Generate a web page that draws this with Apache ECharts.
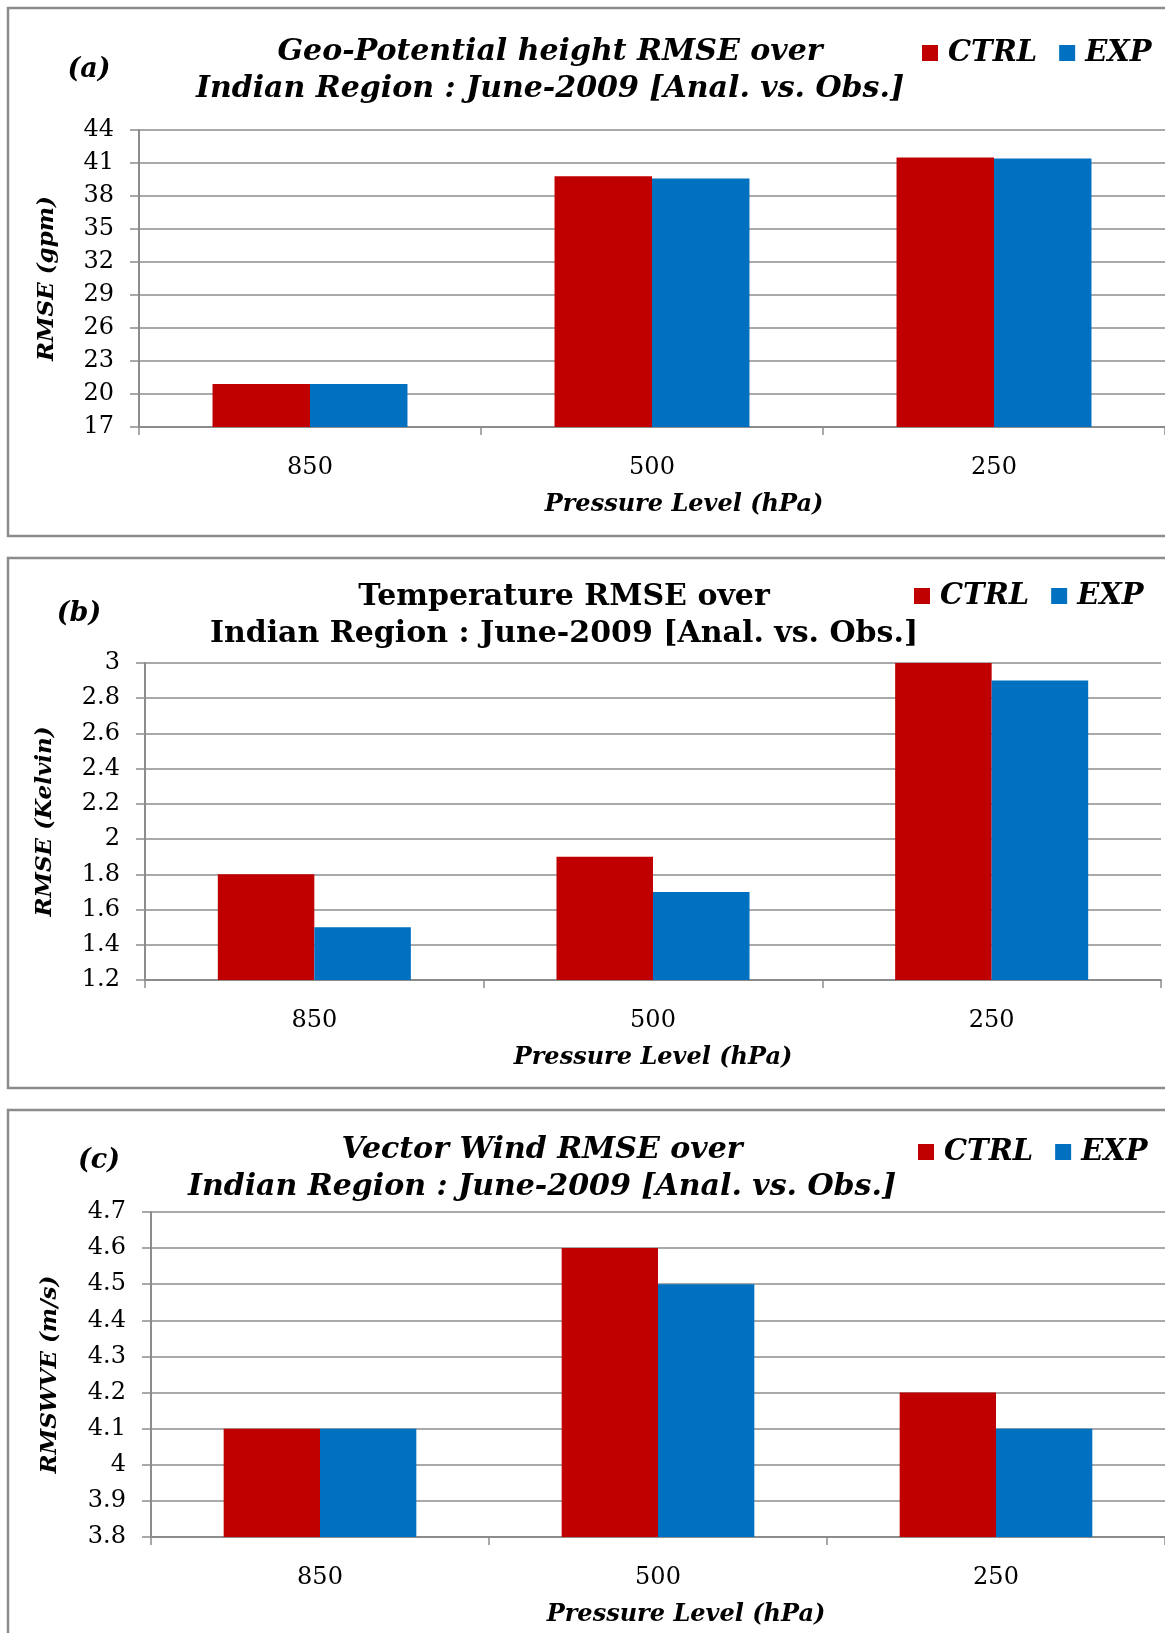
<!DOCTYPE html>
<html>
<head>
<meta charset="utf-8">
<script src="https://cdn.jsdelivr.net/npm/echarts@6/dist/echarts.min.js"></script>
<style>
html,body{margin:0;padding:0;background:#fff;}
#chart{width:1165px;height:1633px;}
</style>
</head>
<body>
<div id="chart"></div>
<script>
const levels = ['850', '500', '250'];
const seriesNames = ['CTRL', 'EXP'];
const geoCtrl = [20.9, 39.8, 41.5];
const geoExp = [20.9, 39.6, 41.4];
const tempCtrl = [1.8, 1.9, 3.0];
const tempExp = [1.5, 1.7, 2.9];
const windCtrl = [4.1, 4.6, 4.2];
const windExp = [4.1, 4.5, 4.1];
const titlesA = ['Geo-Potential height RMSE over', 'Indian Region : June-2009 [Anal. vs. Obs.]'];
const titlesB = ['Temperature RMSE over', 'Indian Region : June-2009 [Anal. vs. Obs.]'];
const titlesC = ['Vector Wind RMSE over', 'Indian Region : June-2009 [Anal. vs. Obs.]'];
const panelTags = ['(a)', '(b)', '(c)'];
const yNames = ['RMSE (gpm)', 'RMSE (Kelvin)', 'RMSWVE (m/s)'];
const xName = 'Pressure Level (hPa)';

const RED = '#C00000', BLUE = '#0070C0', GRAY = '#8c8c8c';
const SERIF = '"DejaVu Serif", serif';

const chart = echarts.init(document.getElementById('chart'));

const grids = [
  {left: 139, top: 130, width: 1030, height: 297},
  {left: 145, top: 663, width: 1016, height: 317},
  {left: 151, top: 1212, width: 1018, height: 325}
];
const yCfg = [
  {min: 17, max: 44, interval: 3, gap: 80},
  {min: 1.2, max: 3, interval: 0.2, gap: 88},
  {min: 3.8, max: 4.7, interval: 0.1, gap: 89}
];
const xPad = [64, 0, 56];

function xAxis(i) {
  return {
    type: 'category', gridIndex: i, data: levels,
    axisLine: {lineStyle: {color: GRAY, width: 2}},
    axisTick: {show: true, length: 8, lineStyle: {color: GRAY, width: 1.5}},
    axisLabel: {margin: 29, fontFamily: SERIF, fontSize: 24, color: '#000'},
    name: xName, nameLocation: 'middle', nameGap: 66,
    nameTextStyle: {fontFamily: SERIF, fontWeight: 'bold', fontStyle: 'italic', fontSize: 24, color: '#000',
      padding: [0, 0, 0, xPad[i]]}
  };
}
function yAxis(i) {
  const c = yCfg[i];
  return {
    type: 'value', gridIndex: i, min: c.min, max: c.max, interval: c.interval,
    axisLine: {show: true, lineStyle: {color: GRAY, width: 2}},
    axisTick: {show: true, length: 9, lineStyle: {color: GRAY, width: 1.5}},
    splitLine: {show: true, lineStyle: {color: GRAY, width: 1.5}},
    axisLabel: {margin: 25, fontFamily: SERIF, fontSize: 24, color: '#000'},
    name: yNames[i], nameLocation: 'middle', nameGap: c.gap,
    nameTextStyle: {fontFamily: SERIF, fontWeight: 'bold', fontStyle: 'italic', fontSize: 23, color: '#000'}
  };
}
function bar(name, data, i, color) {
  return {
    type: 'bar', name: name, data: data, xAxisIndex: i, yAxisIndex: i,
    barGap: '0%', barCategoryGap: '43%', itemStyle: {color: color}, animation: false
  };
}
function legend(left, top) {
  return {
    data: seriesNames, left: left, top: top, padding: 0, itemGap: 22,
    icon: 'rect', itemWidth: 16, itemHeight: 16,
    textStyle: {fontFamily: SERIF, fontWeight: 'bold', fontStyle: 'italic', fontSize: 29, color: '#000',
      lineHeight: 32, padding: [0, 0, 0, 5]}
  };
}
function txt(x, y, s, italic, size, extra) {
  return Object.assign({
    type: 'text', x: x, y: y, silent: true,
    style: {text: s, fill: '#000', font: (italic ? 'italic ' : '') + 'bold ' + size + 'px ' + SERIF,
      textAlign: 'center', textVerticalAlign: 'middle'}
  }, extra || {});
}
function panel(y, h) {
  return {type: 'rect', shape: {x: 8, y: y, width: 1170, height: h}, silent: true, z: -10,
    style: {fill: 'none', stroke: GRAY, lineWidth: 2.5}};
}

chart.setOption({
  backgroundColor: '#fff',
  animation: false,
  grid: grids,
  xAxis: [0, 1, 2].map(xAxis),
  yAxis: [0, 1, 2].map(yAxis),
  legend: [legend(922, 37), legend(914, 580), legend(918, 1136)],
  series: [
    bar(seriesNames[0], geoCtrl, 0, RED), bar(seriesNames[1], geoExp, 0, BLUE),
    bar(seriesNames[0], tempCtrl, 1, RED), bar(seriesNames[1], tempExp, 1, BLUE),
    bar(seriesNames[0], windCtrl, 2, RED), bar(seriesNames[1], windExp, 2, BLUE)
  ],
  graphic: [
    panel(8, 528), panel(558, 530), panel(1110, 540),
    txt(550, 52, titlesA[0], true, 30), txt(550, 89, titlesA[1], true, 30),
    txt(564, 597, titlesB[0], false, 30), txt(564, 634, titlesB[1], false, 30),
    txt(542, 1150, titlesC[0], true, 30), txt(542, 1187, titlesC[1], true, 30),
    txt(89, 70, panelTags[0], true, 27), txt(79, 614, panelTags[1], true, 27), txt(99, 1161, panelTags[2], true, 27)
  ]
});
</script>
</body>
</html>
